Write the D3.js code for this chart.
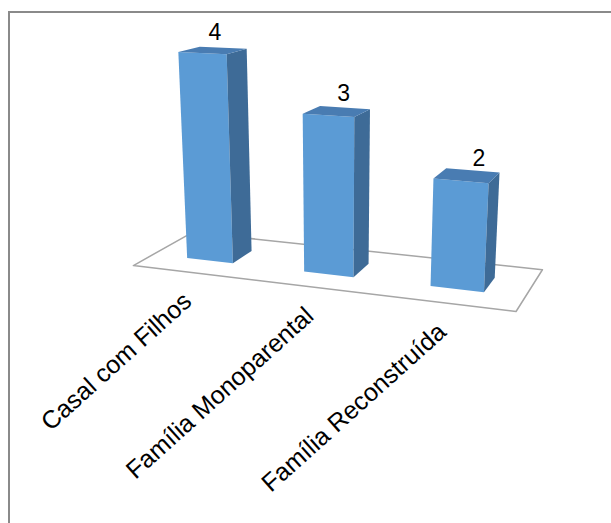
<!DOCTYPE html>
<html><head><meta charset="utf-8">
<script src="https://cdn.jsdelivr.net/npm/d3@7"></script>
<style>body{margin:0;background:#fff}svg{display:block}</style>
</head><body>
<svg id="chart" width="611" height="523"></svg>
<script>
// Data
const categories = ["Casal com Filhos", "Família Monoparental", "Família Reconstruída"];
const values = [4, 3, 2];
const valueLabels = ["4", "3", "2"];

// 3D view settings (world units: one category band = 1)
const view = {
  yaw: 0.3537, pitch: 0.3114, focal: 1120.04, distance: 8.6505,
  cx: 336.71, cy: 267.63, floorDepth: 0.995, barDepth: 0.3526
};

// Scales in world space
const x = d3.scaleBand().domain(categories).range([0, 3])
  .paddingInner(0.6).paddingOuter(0.3);
const y = d3.scaleLinear().domain([0, 4]).range([0, 4 * 0.4044]);

// Perspective projection of a world point (X across, Y up, Z into the page)
const ca = Math.cos(view.yaw), sa = Math.sin(view.yaw);
const cb = Math.cos(view.pitch), sb = Math.sin(view.pitch);
function project(X, Y, Z) {
  const x0 = X - 1.5, z0 = Z - view.floorDepth / 2;
  const xr = x0 * ca + z0 * sa, zr = -x0 * sa + z0 * ca;
  const yc = Y * cb + zr * sb, zc = -Y * sb + zr * cb;
  const w = view.distance + zc;
  return [view.cx + view.focal * xr / w, view.cy - view.focal * yc / w];
}

const svg = d3.select("#chart");
const line = d3.line();

// Chart area border
svg.append("rect")
  .attr("x", 9).attr("y", 12).attr("width", 700).attr("height", 600)
  .attr("fill", "none").attr("stroke", "#8a8a8a").attr("stroke-width", 2);

// Floor
const D = view.floorDepth;
const [x0, x1] = x.range();
svg.append("path")
  .attr("d", line([project(x0, 0, 0), project(x1, 0, 0), project(x1, 0, D), project(x0, 0, D)]) + "Z")
  .attr("fill", "#ffffff").attr("stroke", "#a6a6a6").attr("stroke-width", 1.5)
  .attr("stroke-linejoin", "round");

// Columns
const zc = D / 2, hd = view.barDepth / 2;
const bars = svg.append("g");
categories.forEach((c, i) => {
  const xl = x(c), xr = x(c) + x.bandwidth(), h = y(values[i]);
  const g = bars.append("g");
  const front = [project(xl, 0, zc - hd), project(xr, 0, zc - hd), project(xr, h, zc - hd), project(xl, h, zc - hd)];
  const side = [project(xr, 0, zc - hd), project(xr, 0, zc + hd), project(xr, h, zc + hd), project(xr, h, zc - hd)];
  const top = [project(xl, h, zc - hd), project(xr, h, zc - hd), project(xr, h, zc + hd), project(xl, h, zc + hd)];
  g.append("path").attr("d", line(front) + "Z").attr("fill", "#5b9bd5");
  g.append("path").attr("d", line(side) + "Z").attr("fill", "#3e6b97");
  g.append("path").attr("d", line(top) + "Z").attr("fill", "#497cb2");

  // Value label above the column
  const lp = project(xl + x.bandwidth() / 2, h, zc);
  svg.append("text")
    .attr("x", lp[0] + 2 + 5 * i).attr("y", lp[1] - 10)
    .attr("text-anchor", "middle")
    .attr("font-family", "Liberation Sans, Arial, sans-serif")
    .attr("font-size", 23).attr("fill", "#000")
    .text(valueLabels[i]);

  // Category label, rotated, ending just below the front edge of the floor
  const ap = project(xl + x.bandwidth() / 2, 0, 0);
  svg.append("text")
    .attr("transform", `translate(${ap[0] + 2},${ap[1] + 31}) rotate(-42)`)
    .attr("text-anchor", "end")
    .attr("font-family", "Liberation Sans, Arial, sans-serif")
    .attr("font-size", 25).attr("fill", "#000")
    .text(c);
});
</script>
</body></html>
